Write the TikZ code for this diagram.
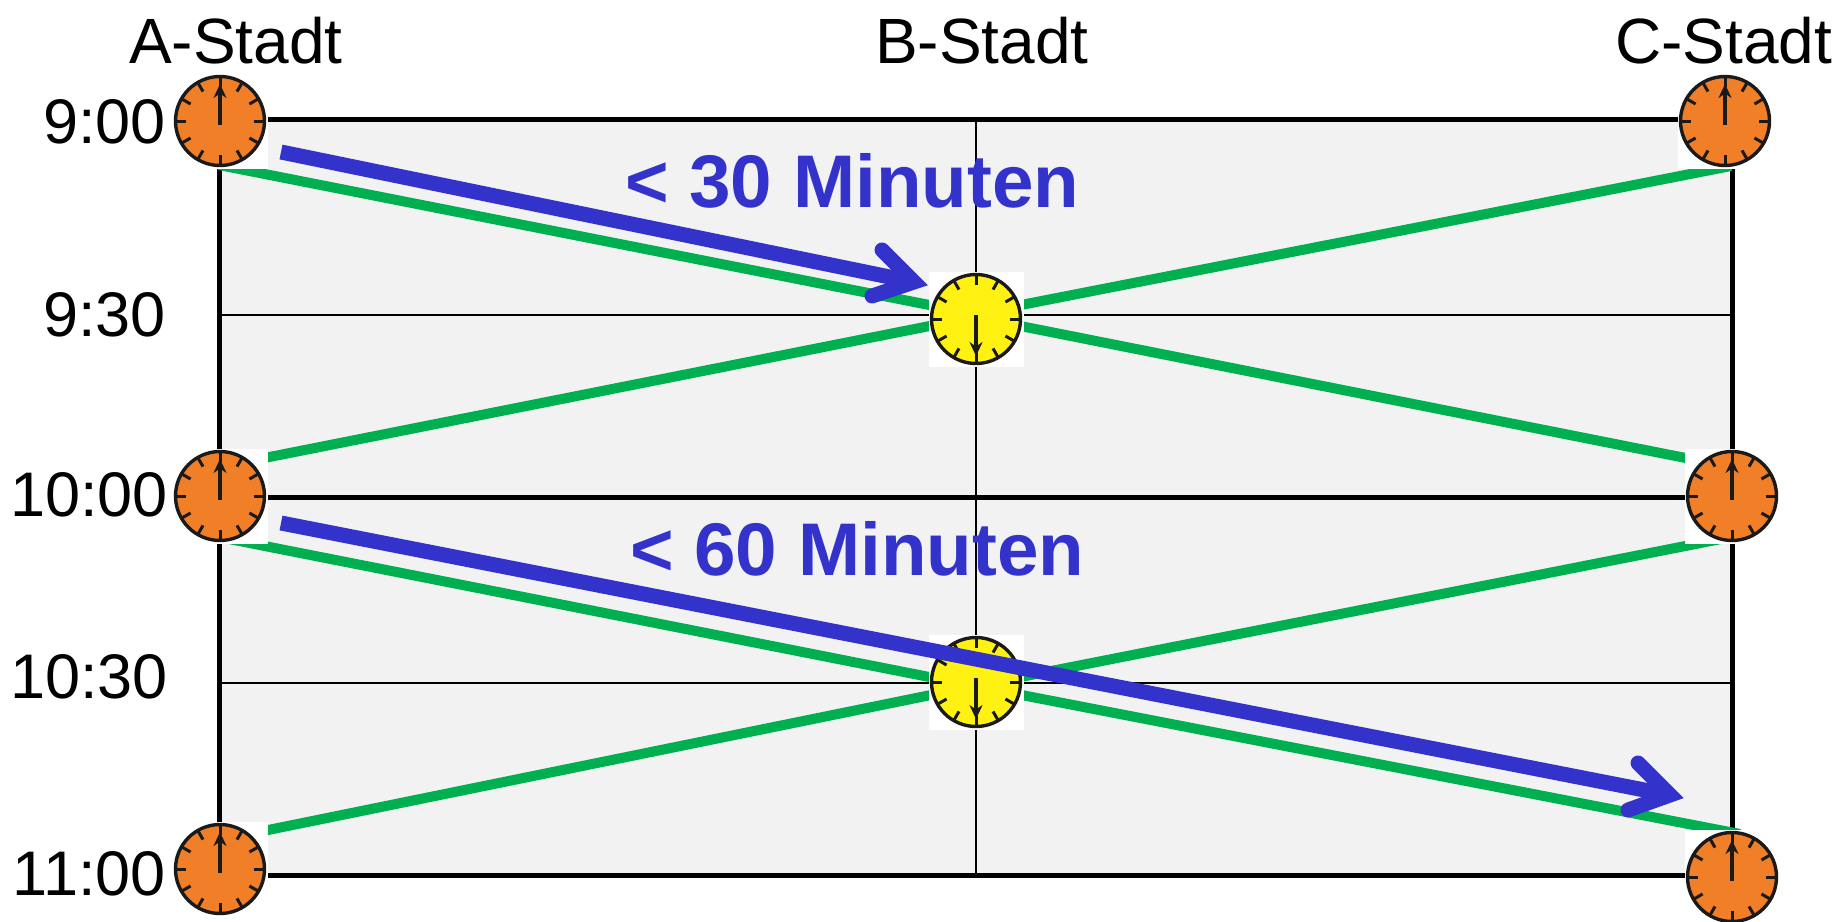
\documentclass[tikz,border=0pt]{standalone}
\usepackage{fontspec}
\setmainfont{Liberation Sans}
\usetikzlibrary{arrows.meta}
\definecolor{panelgrey}{HTML}{F2F2F2}
\definecolor{routegreen}{HTML}{00B050}
\definecolor{arrowblue}{HTML}{3333CC}
\definecolor{clockorange}{HTML}{F07F27}
\definecolor{clockyellow}{HTML}{FFF212}
\definecolor{clockink}{HTML}{1A1A1A}
\tikzset{
  frameline/.style={line width=5pt,black},
  gridline/.style={line width=2pt,black},
  routeline/.style={line width=10pt,routegreen,line cap=butt},
  travelline/.style={line width=15pt,arrowblue,line cap=butt},
  travelhead/.style={line width=15pt,arrowblue,line cap=round,line join=miter,miter limit=10},
  timelabel/.style={font=\fontsize{63}{63}\selectfont,anchor=base east,inner sep=0pt,text=black},
  citylabel/.style={font=\fontsize{64}{64}\selectfont,anchor=base west,inner sep=0pt,text=black},
  durationlabel/.style={font=\fontsize{74.6}{74.6}\selectfont\bfseries,anchor=base west,inner sep=0pt,text=arrowblue},
  clockback/.style={fill=white,draw=none,minimum size=95pt,inner sep=0pt,shape=rectangle},
  clockface/.style={circle,draw=clockink,line width=3.4pt,minimum size=89pt,inner sep=0pt},
  clockmark/.style={draw=clockink,line width=3pt},
  clockhand/.style={draw=clockink,line width=3.6pt,-{Stealth[length=14pt,width=13pt]}}
}
% #1 name, #2 x, #3 y, #4 fill, #5 hand direction (-1 up, 1 down)
\newcommand{\clockdial}[5]{%
  \node[clockback] at (#2,#3) {};
  \node[clockface,fill=#4] (#1) at (#2,#3) {};
  \foreach \tickangle in {0,30,...,330}
    \draw[clockmark] ([shift={(\tickangle:-44pt)}]#1.center) -- ([shift={(\tickangle:-34pt)}]#1.center);
  \draw[clockhand] ([yshift=#5*4pt]#1.center) -- ++(0,#5*41);
}
\begin{document}
\begin{tikzpicture}[x=1pt,y=-1pt]
\useasboundingbox (0,0) rectangle (1838,921);
\fill[white] (0,0) rectangle (1838,921);
% panel
\coordinate (tl) at (219,119);
\coordinate (tr) at (1732,119);
\coordinate (br) at (1732,875);
\coordinate (bl) at (219,875);
\coordinate (ml) at (219,497);
\coordinate (mr) at (1732,497);
\coordinate (q1l) at (219,315);
\coordinate (q1r) at (1732,315);
\coordinate (q3l) at (219,683);
\coordinate (q3r) at (1732,683);
\coordinate (vt) at (976,119);
\coordinate (vb) at (976,875);
\fill[panelgrey] (tl) rectangle (br);
\draw[gridline] (q1l) -- (q1r);
\draw[gridline] (q3l) -- (q3r);
\draw[gridline] (vt) -- (vb);
\draw[line width=5pt] (ml) -- (mr);
\draw[frameline] (tl) -- (tr) -- (br) -- (bl) -- cycle;
% routes
\coordinate (g1) at (219,165);
\coordinate (g2) at (975,314);
\coordinate (g3) at (1731,166);
\coordinate (g4) at (219,467);
\coordinate (g5) at (975,317);
\coordinate (g6) at (1731,467);
\coordinate (g7) at (219,537);
\coordinate (g8) at (975,686);
\coordinate (g9) at (1740,834);
\coordinate (g10) at (219,840);
\coordinate (g11) at (975,686);
\coordinate (g12) at (1731,537);
\draw[routeline] (g1) -- (g2) -- (g3);
\draw[routeline] (g4) -- (g5) -- (g6);
\draw[routeline] (g7) -- (g8) -- (g9);
\draw[routeline] (g10) -- (g11) -- (g12);
% clocks
\clockdial{a9}{220}{121}{clockorange}{-1}
\clockdial{c9}{1725}{121}{clockorange}{-1}
\clockdial{b930}{976}{319}{clockyellow}{1}
\clockdial{a10}{220}{496}{clockorange}{-1}
\clockdial{c10}{1732}{496}{clockorange}{-1}
\clockdial{b1030}{976}{682}{clockyellow}{1}
\clockdial{a11}{220}{869}{clockorange}{-1}
\clockdial{c11}{1732}{877}{clockorange}{-1}
% travel arrows
\coordinate (t1s) at (281,152);
\coordinate (t1e) at (914,282);
\coordinate (t1a) at (882,250);
\coordinate (t1b) at (872,296);
\coordinate (t2s) at (281,523);
\coordinate (t2e) at (1670,795);
\coordinate (t2a) at (1638,763);
\coordinate (t2b) at (1628,810);
\draw[travelline] (t1s) -- (t1e);
\draw[travelhead] (t1a) -- (t1e) -- (t1b);
\draw[travelline] (t2s) -- (t2e);
\draw[travelhead] (t2a) -- (t2e) -- (t2b);
% text
\node[citylabel] (cityA) at (129,63) {A-Stadt};
\node[citylabel] (cityB) at (875,63) {B-Stadt};
\node[citylabel] (cityC) at (1615,63) {C-Stadt};
\node[timelabel] (t900) at (166,143) {9:00};
\node[timelabel] (t930) at (166,336) {9:30};
\node[timelabel] (t1000) at (168,516) {10:00};
\node[timelabel] (t1030) at (168,698) {10:30};
\node[timelabel] (t1100) at (166,895) {11:00};
\node[durationlabel] (d30) at (625,207) {< 30 Minuten};
\node[durationlabel] (d60) at (630,575) {< 60 Minuten};
\end{tikzpicture}
\end{document}
